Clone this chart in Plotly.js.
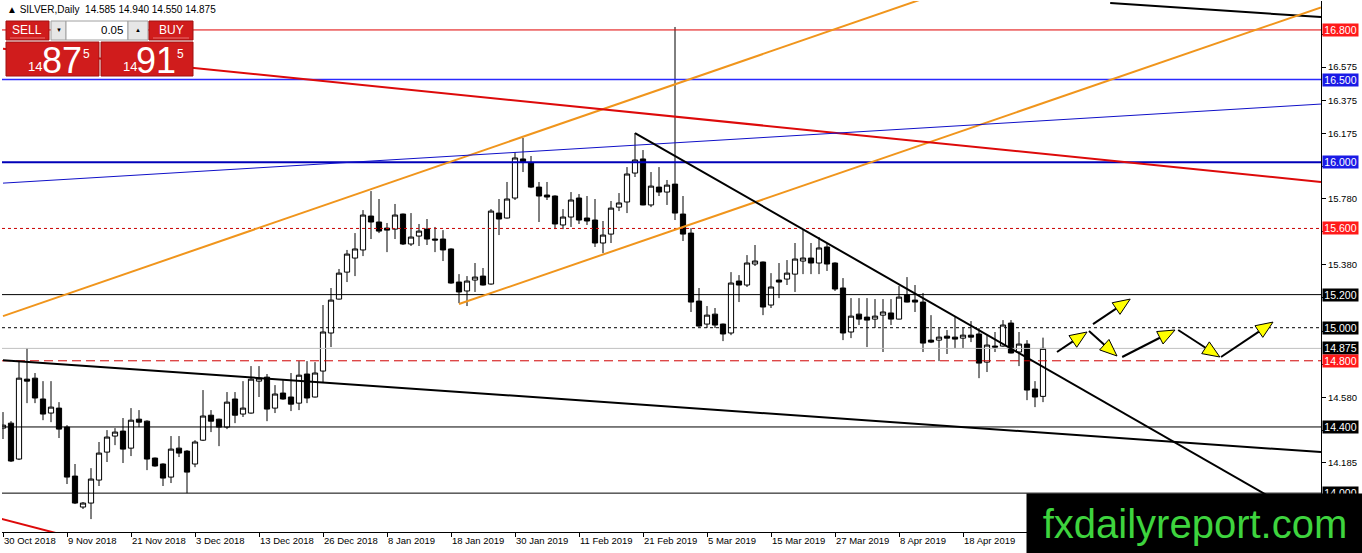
<!DOCTYPE html>
<html><head><meta charset="utf-8">
<script src="https://cdn.plot.ly/plotly-3.0.1.min.js"></script>
<style>html,body{margin:0;padding:0;background:#fff;overflow:hidden}#chart{width:1362px;height:553px}</style>
</head><body><div id="chart"></div>
<script>
// ---------- DATA ----------
const dateLabels = ['30 Oct 2018','9 Nov 2018','21 Nov 2018','3 Dec 2018','13 Dec 2018','26 Dec 2018','8 Jan 2019','18 Jan 2019','30 Jan 2019','11 Feb 2019','21 Feb 2019','5 Mar 2019','15 Mar 2019','27 Mar 2019','8 Apr 2019','18 Apr 2019'];
const labelEvery = 8;

const open = [14.393,14.423,14.206,14.689,14.695,14.569,14.484,14.514,14.399,14.103,13.916,13.940,14.079,14.248,14.345,14.375,14.272,14.447,14.435,14.212,14.176,14.097,14.272,14.254,14.176,14.320,14.471,14.447,14.399,14.569,14.478,14.484,14.677,14.701,14.514,14.605,14.581,14.544,14.720,14.581,14.738,14.968,15.173,15.336,15.421,15.470,15.675,15.639,15.602,15.596,15.687,15.506,15.554,15.596,15.536,15.536,15.476,15.276,15.222,15.288,15.312,15.264,15.693,15.663,15.784,16.020,15.996,15.850,15.802,15.796,15.621,15.669,15.784,15.663,15.651,15.512,15.566,15.729,15.760,15.935,16.020,15.742,15.850,15.820,15.868,15.687,15.572,15.161,15.022,15.082,15.022,14.968,15.282,15.258,15.385,15.397,15.137,15.288,15.294,15.324,15.403,15.421,15.391,15.488,15.391,15.240,14.974,15.082,15.064,15.052,15.076,15.089,15.052,15.197,15.167,15.155,14.925,14.925,14.949,14.943,14.937,14.955,14.962,14.792,14.889,14.889,15.028,14.853,14.901,14.629,14.585];
const high = [14.490,14.435,14.798,14.877,14.726,14.677,14.677,14.550,14.411,14.176,13.946,14.151,14.309,14.381,14.393,14.454,14.514,14.502,14.440,14.215,14.180,14.345,14.345,14.260,14.320,14.623,14.502,14.450,14.611,14.611,14.677,14.768,14.768,14.720,14.653,14.683,14.726,14.798,14.798,14.792,15.137,15.240,15.355,15.470,15.572,15.711,15.826,15.778,15.633,15.748,15.690,15.693,15.627,15.657,15.609,15.590,15.480,15.324,15.312,15.391,15.361,15.717,15.778,15.881,16.062,16.147,16.038,15.881,15.881,15.800,15.717,15.820,15.808,15.796,15.778,15.645,15.766,15.814,15.971,16.177,16.074,15.941,15.971,15.893,16.818,15.796,15.602,15.240,15.131,15.119,15.025,15.336,15.318,15.439,15.500,15.400,15.330,15.391,15.409,15.512,15.596,15.512,15.548,15.512,15.395,15.300,15.179,15.179,15.179,15.173,15.173,15.173,15.252,15.306,15.258,15.210,15.076,14.998,14.986,15.064,14.998,15.040,14.998,14.955,14.974,15.046,15.046,14.974,14.925,14.677,14.940];
const low = [14.327,14.188,14.200,14.544,14.544,14.441,14.429,14.333,14.055,13.934,13.904,13.843,14.043,14.188,14.290,14.182,14.224,14.399,14.139,14.160,14.043,14.061,14.218,14.000,14.157,14.315,14.369,14.284,14.387,14.423,14.460,14.480,14.581,14.435,14.484,14.565,14.496,14.502,14.544,14.578,14.671,14.883,15.170,15.276,15.312,15.433,15.536,15.572,15.457,15.536,15.500,15.494,15.494,15.500,15.457,15.403,15.266,15.149,15.131,15.216,15.255,15.260,15.560,15.660,15.772,15.941,15.844,15.639,15.772,15.596,15.596,15.609,15.627,15.621,15.488,15.451,15.512,15.705,15.693,15.911,15.740,15.729,15.796,15.742,15.651,15.524,15.095,15.005,14.998,14.998,14.919,14.955,15.155,15.246,15.373,15.076,15.119,15.179,15.258,15.216,15.324,15.324,15.324,15.343,15.222,14.925,14.937,15.016,14.883,14.998,14.853,15.016,15.050,15.153,15.095,14.853,14.907,14.798,14.841,14.877,14.877,14.913,14.695,14.732,14.853,14.885,14.845,14.768,14.562,14.520,14.550];
const close = [14.411,14.194,14.695,14.677,14.575,14.478,14.520,14.387,14.097,13.940,13.940,14.085,14.242,14.339,14.369,14.266,14.441,14.429,14.206,14.164,14.091,14.266,14.242,14.127,14.309,14.466,14.435,14.399,14.550,14.471,14.514,14.689,14.695,14.508,14.599,14.569,14.538,14.713,14.575,14.726,14.974,15.167,15.330,15.445,15.476,15.681,15.639,15.584,15.590,15.681,15.506,15.548,15.584,15.536,15.530,15.470,15.270,15.216,15.282,15.306,15.258,15.705,15.657,15.778,16.026,16.002,15.850,15.796,15.790,15.627,15.669,15.772,15.651,15.645,15.512,15.560,15.723,15.754,15.929,16.014,15.742,15.856,15.820,15.862,15.693,15.566,15.155,15.010,15.076,15.016,14.962,15.270,15.258,15.391,15.403,15.125,15.246,15.276,15.330,15.415,15.421,15.391,15.482,15.385,15.234,14.968,15.070,15.052,15.046,15.070,15.095,15.052,15.185,15.155,15.155,14.907,14.913,14.943,14.937,14.931,14.955,14.943,14.786,14.895,14.883,15.016,14.847,14.901,14.623,14.581,14.875];

const priceTicks = [16.775,16.575,16.375,16.175,15.975,15.780,15.580,15.380,15.180,14.980,14.780,14.580,14.380,14.185];
const hiddenTicks = [16.775,15.975,15.580,15.180,14.980,14.780,14.380];
const hLevels = [16.800,16.500,16.000,15.600,15.200,15.000,14.875,14.800,14.400,14.000];
// trend lines: [x0, price0, x1, price1] in bar index / price
const trendLines = [
  [138.4,16.963,164.75,16.878],
  [0,15.070,120,17.072],
  [57,15.143,164.75,16.936],
  [0,16.687,164.75,15.881],
  [-0.2,13.845,10,13.716],
  [0,15.874,164.75,16.352],
  [0,14.804,164.75,14.248],
  [79,16.177,164.75,13.800]
];
const arrows = [
  [131.75,14.853,135.5,14.974],
  [136.25,15.022,140.9,15.173],
  [135.75,14.980,139.25,14.829],
  [139.9,14.823,146.5,14.986],
  [146.9,14.986,152.1,14.823],
  [152.25,14.823,158.75,15.034]
];
const ohlcText = '\u25B2 SILVER,Daily  14.585 14.940 14.550 14.875';

// ---------- STYLES / LAYOUT ----------
const W=1362,H=553,M={l:2,r:41,t:1,b:21};
const XR=[-0.125,164.75], YR=[13.765,16.975];
const PW=W-M.l-M.r, PH=H-M.t-M.b;
const KX=PW/(XR[1]-XR[0]), KY=PH/(YR[1]-YR[0]);
const pxX = x => (x-M.l)/PW;
const pxY = y => (H-M.b-y)/PH;

const hColors = ['#e00000','#2a2aff','#0000b8','#c80000','#000000','#000000','#c0c0c0','#d00000','#000000','#000000'];
const hWidths = [1,1.4,2,1,1,1,1,1,1,1];
const hDash = ['solid','solid','solid','3px,3px','solid','3px,3px','solid','9px,5px','solid','solid'];
const hLabelBg = ['#ff1a1a','#1a1ae6','#1a1ae6','#ff1a1a','#000','#000','#000','#ff1a1a','#000','#000'];
const ORANGE='#f0951c';
const tColors = ['#000',ORANGE,ORANGE,'#dd0a0a','#dd0a0a','#1010c8','#000','#000'];
const tWidths = [2,2,2,2,2,1,2,2];

const xIdx = open.map((_,i)=>i);
const trace = {
  type:'candlestick', x:xIdx, open:open, high:high, low:low, close:close,
  increasing:{line:{color:'#000',width:1}, fillcolor:'#ffffff'},
  decreasing:{line:{color:'#000',width:1}, fillcolor:'#000000'},
  whiskerwidth:0, hoverinfo:'skip', showlegend:false
};

const shapes=[];
hLevels.forEach((v,i)=>shapes.push({type:'line',xref:'paper',yref:'y',x0:0,x1:1,y0:v,y1:v,layer:'above',
  line:{color:hColors[i],width:hWidths[i],dash:hDash[i]}}));
trendLines.forEach((t,i)=>shapes.push({type:'line',xref:'x',yref:'y',x0:t[0],y0:t[1],x1:t[2],y1:t[3],layer:'above',
  line:{color:tColors[i],width:tWidths[i]}}));
// arrows
arrows.forEach(a=>{
  const dx=(a[2]-a[0])*KX, dy=(a[3]-a[1])*KY;
  const L=Math.hypot(dx,dy), ux=dx/L, uy=dy/L;
  const hl=17, hw=7;
  const bx=dx-ux*hl, by=dy-uy*hl;
  const nx=-uy, ny=ux;
  const P=(px,py)=>[(a[0]+px/KX).toFixed(4),(a[1]+py/KY).toFixed(4)];
  const b=P(bx,by);
  shapes.push({type:'line',xref:'x',yref:'y',x0:a[0],y0:a[1],x1:+b[0],y1:+b[1],layer:'above',line:{color:'#000',width:2}});
  const p1=P(dx,dy), p2=P(bx+nx*hw,by+ny*hw), p3=P(bx-nx*hw,by-ny*hw);
  shapes.push({type:'path',xref:'x',yref:'y',layer:'above',
    path:`M${p1[0]},${p1[1]} L${p2[0]},${p2[1]} L${p3[0]},${p3[1]} Z`,
    fillcolor:'#ffff00',line:{color:'#000',width:1}});
});
// trading panel (top-left)
const RED='#d01c1c';
function rect(x0,y0,x1,y1,fill,lc,lw){shapes.push({type:'rect',xref:'paper',yref:'paper',layer:'above',
  x0:pxX(x0),x1:pxX(x1),y0:pxY(y1),y1:pxY(y0),fillcolor:fill,line:{color:lc||fill,width:lw===undefined?1:lw}});}
rect(6,21,49,40,RED,'#a01010');
rect(51,21,66,40,'#e6e6e6','#a0a0a0');
rect(66,21,128,40,'#ffffff','#a0a0a0');
rect(128,21,148,40,'#e6e6e6','#a0a0a0');
rect(149,21,193,40,RED,'#a01010');
rect(6,42,99,76,RED,'#a01010');
rect(101,42,193,76,RED,'#a01010');
shapes.push({type:'line',xref:'paper',yref:'paper',layer:'above',x0:pxX(10),x1:pxX(45),y0:pxY(38),y1:pxY(38),line:{color:'#e87070',width:1}});
shapes.push({type:'line',xref:'paper',yref:'paper',layer:'above',x0:pxX(153),x1:pxX(189),y0:pxY(38),y1:pxY(38),line:{color:'#e87070',width:1}});

const annotations=[];
const FONT='Liberation Sans';
hLevels.forEach((v,i)=>annotations.push({xref:'paper',yref:'y',x:1,y:v,xanchor:'left',yanchor:'middle',xshift:1,
  text:v.toFixed(3),showarrow:false,bgcolor:hLabelBg[i],borderpad:0,width:35,height:12,
  font:{family:FONT,size:10.5,color:'#fff'}}));
function txt(x,y,t,size,color,anchor,family){annotations.push({xref:'paper',yref:'paper',x:pxX(x),y:pxY(y),text:t,showarrow:false,
  xanchor:anchor||'center',yanchor:'middle',font:{family:family||FONT,size:size,color:color}});}
txt(5,10,ohlcText,10,'#000','left');
txt(27,30,'SELL',12,'#fff');
txt(171,30,'BUY',12,'#fff');
txt(58.5,30,'\u25BC',6,'#000');
txt(138,30,'\u25B2',6,'#000');
txt(125,30,'0.05',11.5,'#000','right');
txt(35,67,'14',13,'#fff');
txt(62,60,'87',36,'#fff');
txt(86,54,'5',12,'#fff');
txt(130,67,'14',13,'#fff');
txt(156,60,'91',36,'#fff');
txt(180,54,'5',12,'#fff');
// watermark
annotations.push({xref:'paper',yref:'paper',x:pxX(1026),y:pxY(493),xanchor:'left',yanchor:'top',width:336,height:60,
  bgcolor:'#000',borderpad:0,showarrow:false,text:'fxdailyreport.com',valign:'middle',
  font:{family:FONT,size:40,color:'#3ed43e'}});

const layout = {
  width:W,height:H,margin:M,paper_bgcolor:'#fff',plot_bgcolor:'#fff',showlegend:false,
  boxgap:0.35,boxgroupgap:0,
  xaxis:{range:XR,autorange:false,rangeslider:{visible:false},showgrid:false,zeroline:false,
    tickvals:dateLabels.map((_,i)=>i*labelEvery),ticktext:dateLabels,ticks:'outside',ticklen:4,tickcolor:'#000',
    tickangle:0,ticklabelposition:'outside right',showline:true,linecolor:'#000',linewidth:1,
    tickfont:{family:FONT,size:9.5,color:'#000'},fixedrange:true},
  yaxis:{range:YR,autorange:false,side:'right',showgrid:false,zeroline:false,
    tickvals:priceTicks,ticktext:priceTicks.map(v=>hiddenTicks.includes(v)?'':v.toFixed(3)),ticks:'outside',ticklen:4,tickcolor:'#000',
    showline:true,linecolor:'#000',linewidth:1,tickfont:{family:FONT,size:9.5,color:'#000'},fixedrange:true},
  shapes:shapes,annotations:annotations
};
Plotly.newPlot('chart',[trace],layout,{staticPlot:true,displayModeBar:false});
</script></body></html>
